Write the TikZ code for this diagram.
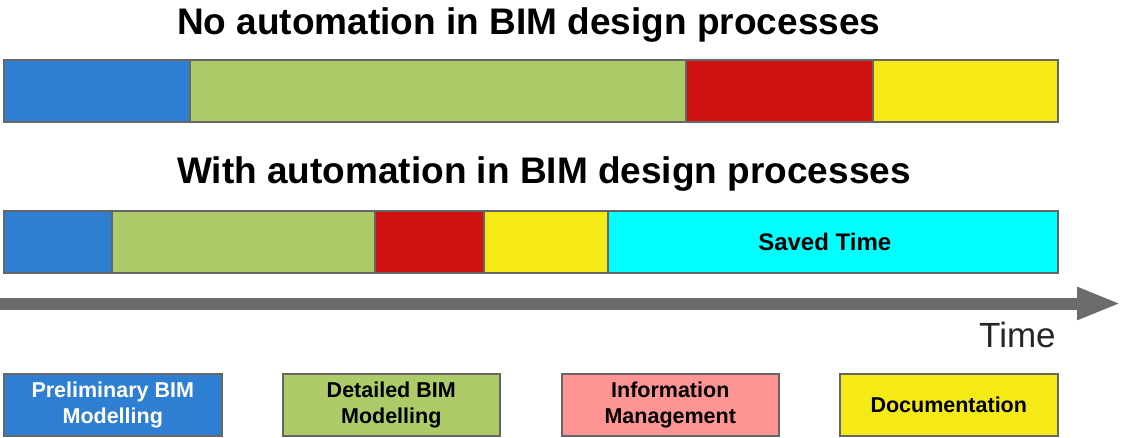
\documentclass[tikz,border=0pt]{standalone}
\usepackage{fontspec}
\setmainfont{Liberation Sans}
\usetikzlibrary{arrows.meta}
\definecolor{cblue}{HTML}{2E7FD2}
\definecolor{cgreen}{HTML}{ADCB68}
\definecolor{cred}{HTML}{D01212}
\definecolor{cyel}{HTML}{F5EA15}
\definecolor{ccyan}{HTML}{00FFFF}
\definecolor{cpink}{HTML}{FF9494}
\definecolor{cedge}{HTML}{666666}
\definecolor{carrow}{HTML}{6B6B6B}
\tikzset{
  seg/.style={draw=cedge, line width=1.5pt, rectangle, inner sep=0pt, anchor=north west},
  title/.style={inner sep=0pt, anchor=base west, font=\fontsize{37}{40}\selectfont\bfseries},
  legend/.style={draw=cedge, line width=1.5pt, rectangle, inner sep=0pt, anchor=north west,
    minimum height=62pt, align=center, font=\fontsize{21.5}{25.5}\selectfont\bfseries},
}
\begin{document}
\begin{tikzpicture}[x=1pt,y=-1pt]
\useasboundingbox (0,0) rectangle (1121,437);
% titles
\node[title] (t1) at (177,34) {No automation in BIM design processes};
\node[title] (t2) at (177,183) {With automation in BIM design processes};
% row 1
\node[seg, fill=cblue, minimum width=186pt, minimum height=62pt] (a1) at (3,59) {};
\node[seg, fill=cgreen, minimum width=496pt, minimum height=62pt] (a2) at (189,59) {};
\node[seg, fill=cred, minimum width=187pt, minimum height=62pt] (a3) at (685,59) {};
\node[seg, fill=cyel, minimum width=185pt, minimum height=62pt] (a4) at (872,59) {};
% row 2
\node[seg, fill=cblue, minimum width=108pt, minimum height=62pt] (b1) at (3,210) {};
\node[seg, fill=cgreen, minimum width=263pt, minimum height=62pt] (b2) at (111,210) {};
\node[seg, fill=cred, minimum width=109pt, minimum height=62pt] (b3) at (374,210) {};
\node[seg, fill=cyel, minimum width=124pt, minimum height=62pt] (b4) at (483,210) {};
\node[seg, fill=ccyan, minimum width=450pt, minimum height=62pt] (b5) at (607,210) {};
\node[inner sep=0pt, font=\fontsize{24}{26}\selectfont\bfseries] (st) at ([xshift=-8pt]b5.center) {Saved Time};
% time arrow
\coordinate (ts) at (0,303.5);
\coordinate (te) at (1121,303.5);
\draw[carrow, line width=12pt, -{Triangle[length=44pt,width=30pt]}] (ts) -- (te);
\node[inner sep=0pt, anchor=base west, text=black!85, font=\fontsize{35}{38}\selectfont] (tl) at (979,347) {Time};
% legend
\node[legend, fill=cblue, text=white, minimum width=218pt] (l1) at (3,373) {Preliminary BIM\\Modelling};
\node[legend, fill=cgreen, minimum width=217pt] (l2) at (282,373) {Detailed BIM\\Modelling};
\node[legend, fill=cpink, minimum width=217pt] (l3) at (561,373) {Information\\Management};
\node[legend, fill=cyel, minimum width=218pt] (l4) at (839,373) {Documentation};
\end{tikzpicture}
\end{document}
